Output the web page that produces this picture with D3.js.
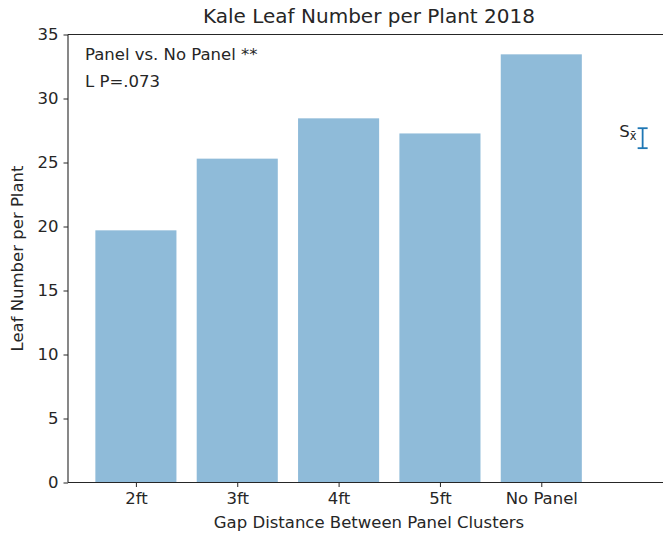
<!DOCTYPE html>
<html>
<head>
<meta charset="utf-8">
<script src="https://cdn.jsdelivr.net/npm/d3@7"></script>
<style>
  body { margin: 0; background: #fff; }
  text { font-family: "DejaVu Sans", sans-serif; fill: #262626; }
</style>
</head>
<body>
<div id="chart"></div>
<script>
// chart data
var categories = ["2ft", "3ft", "4ft", "5ft", "No Panel"];
var leafNumbers = [19.7, 25.3, 28.45, 27.27, 33.45];
var yTicks = [0, 5, 10, 15, 20, 25, 30, 35];
var notes = ["Panel vs. No Panel **", "L P=.073"];
// standard error sample bar
var seMean = 26.9;
var seErr = 0.78;

var svgWidth = 663;
var svgHeight = 535;
var fontSize = "16.5px";

var svg = d3.select("#chart").append("svg")
    .attr("width", svgWidth)
    .attr("height", svgHeight);

// scales: x is category index (matplotlib style), y is leaf number
var x = d3.scaleLinear().domain([-0.67, 5.27]).range([68, 670]);
var y = d3.scaleLinear().domain([0, 35]).range([482.5, 34.5]);

var barWidth = x(0.8) - x(0);

// bars
svg.selectAll(".bar")
    .data(leafNumbers)
    .enter()
    .append("rect")
    .attr("class", "bar")
    .attr("x", (d, i) => x(i - 0.4))
    .attr("y", d => y(d))
    .attr("width", barWidth)
    .attr("height", d => y(0) - y(d))
    .attr("fill", "#1f77b4")
    .attr("fill-opacity", 0.5);

// axes
var bottomAxis = d3.axisBottom(x)
    .tickValues(d3.range(categories.length))
    .tickFormat(i => categories[i])
    .tickSize(4.5)
    .tickPadding(5);
var leftAxis = d3.axisLeft(y)
    .tickValues(yTicks)
    .tickSize(4.5)
    .tickPadding(5);

var xAxis = svg.append("g")
    .attr("transform", `translate(0, ${y(0)})`)
    .call(bottomAxis);
var yAxis = svg.append("g")
    .attr("transform", `translate(${x.range()[0]}, 0)`)
    .call(leftAxis);

[xAxis, yAxis].forEach(function(g) {
    g.select(".domain").attr("stroke", "#262626").attr("stroke-width", 1.1);
    g.selectAll(".tick line").attr("stroke", "#262626").attr("stroke-width", 1);
    g.selectAll(".tick text")
        .attr("font-family", "DejaVu Sans")
        .attr("font-size", fontSize)
        .attr("fill", "#262626");
});
xAxis.select(".domain").attr("d", `M${x.range()[0]},0H${x.range()[1]}`);
yAxis.select(".domain").attr("d", `M0,${y(0)}V${y(35)}`);

// top and right spines
svg.append("line")
    .attr("x1", x.range()[0]).attr("x2", x.range()[1])
    .attr("y1", y(35)).attr("y2", y(35))
    .attr("stroke", "#262626").attr("stroke-width", 1.1);
svg.append("line")
    .attr("x1", x.range()[1]).attr("x2", x.range()[1])
    .attr("y1", y(0)).attr("y2", y(35))
    .attr("stroke", "#262626").attr("stroke-width", 1.1);

// error bar sample
var ex = x(5);
var seGroup = svg.append("g").attr("stroke", "#1f77b4").attr("stroke-width", 1.8);
seGroup.append("line")
    .attr("x1", ex).attr("x2", ex)
    .attr("y1", y(seMean - seErr)).attr("y2", y(seMean + seErr));
seGroup.append("line")
    .attr("x1", ex - 5).attr("x2", ex + 5)
    .attr("y1", y(seMean - seErr)).attr("y2", y(seMean - seErr));
seGroup.append("line")
    .attr("x1", ex - 5).attr("x2", ex + 5)
    .attr("y1", y(seMean + seErr)).attr("y2", y(seMean + seErr));

var sLabel = svg.append("text")
    .attr("x", x(4.77))
    .attr("y", y(27))
    .attr("font-size", fontSize);
sLabel.append("tspan").text("S");
sLabel.append("tspan")
    .attr("dy", 3)
    .attr("font-size", "11.5px")
    .text("x\u0304");

// notes in the top-left corner
svg.selectAll(".note")
    .data(notes)
    .enter()
    .append("text")
    .attr("class", "note")
    .attr("x", 85)
    .attr("y", (d, i) => 60 + i * 27)
    .attr("font-size", fontSize)
    .text(d => d);

// title and axis labels
svg.append("text")
    .attr("x", (x.range()[0] + x.range()[1]) / 2)
    .attr("y", 23)
    .attr("text-anchor", "middle")
    .attr("font-size", "20px")
    .text("Kale Leaf Number per Plant 2018");

svg.append("text")
    .attr("x", (x.range()[0] + x.range()[1]) / 2)
    .attr("y", 528)
    .attr("text-anchor", "middle")
    .attr("font-size", fontSize)
    .text("Gap Distance Between Panel Clusters");

svg.append("text")
    .attr("transform", `translate(23, ${(y(0) + y(35)) / 2}) rotate(-90)`)
    .attr("text-anchor", "middle")
    .attr("font-size", fontSize)
    .text("Leaf Number per Plant");
</script>
</body>
</html>
